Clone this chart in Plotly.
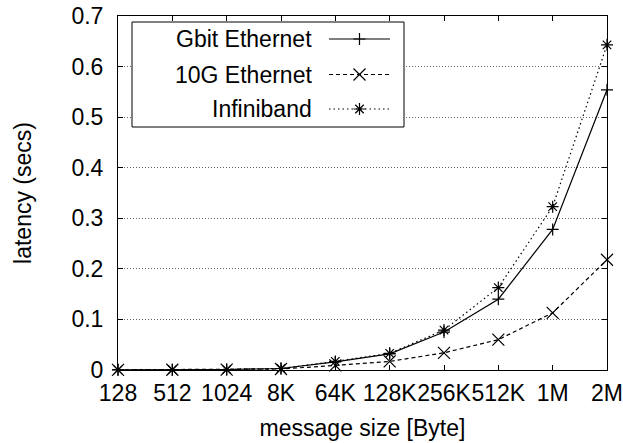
import plotly.graph_objects as go

categories = ["128", "512", "1024", "8K", "64K", "128K", "256K", "512K", "1M", "2M"]
gbit = [0.0005, 0.0007, 0.001, 0.003, 0.016, 0.032, 0.075, 0.140, 0.278, 0.554]
teng = [0.0004, 0.0005, 0.0008, 0.002, 0.009, 0.017, 0.034, 0.060, 0.113, 0.218]
infini = [0.0004, 0.0006, 0.001, 0.003, 0.017, 0.033, 0.079, 0.163, 0.323, 0.643]
series_names = ["Gbit Ethernet", "10G Ethernet", "Infiniband"]

W, H = 623, 443
PL, PR, PT, PB = 118, 607, 16, 370          # plot area in page pixels
L, T, R, B = PL, PT, W - PR, H - PB
PW, PH = PR - PL, PB - PT
FONT = "Liberation Sans, Arial, Helvetica, sans-serif"
FS = 23

def px(x):
    return (x - PL) / PW

def py(y):
    return (PB - y) / PH

styles = [
    dict(dash="solid", symbol="cross-thin-open", size=8.6),
    dict(dash="4px,3px", symbol="x-thin-open", size=12),
    dict(dash="1.5px,3px", symbol="asterisk-open", size=10),
]

fig = go.Figure()
for name, vals, st in zip(series_names, [gbit, teng, infini], styles):
    fig.add_trace(go.Scatter(
        x=categories, y=vals, name=name, mode="lines+markers",
        line=dict(color="black", width=1.2, dash=st["dash"]),
        marker=dict(symbol=st["symbol"], size=st["size"],
                    line=dict(color="black", width=1.2), color="black"),
        cliponaxis=False, showlegend=False,
    ))

# custom legend (text first, sample on the right, like gnuplot)
shapes = [dict(type="rect", xref="paper", yref="paper",
               x0=px(132), x1=px(404), y0=py(127), y1=py(22),
               line=dict(color="black", width=1), fillcolor="white", layer="above")]
annotations = []
rows = [39, 74.5, 109]
mx = 359.5
for name, st, ry in zip(series_names, styles, rows):
    shapes.append(dict(type="line", xref="paper", yref="paper",
                       x0=px(329), x1=px(390), y0=py(ry), y1=py(ry),
                       line=dict(color="black", width=1.2, dash=st["dash"])))
    annotations.append(dict(text=name, xref="paper", yref="paper",
                            x=px(314), y=py(ry), xanchor="right", yanchor="middle",
                            showarrow=False, font=dict(size=FS, color="black", family=FONT)))
    if st["symbol"].startswith("cross"):
        h = 6
        path = (f"M{px(mx-h)},{py(ry)} L{px(mx+h)},{py(ry)} "
                f"M{px(mx)},{py(ry-h)} L{px(mx)},{py(ry+h)}")
    elif st["symbol"].startswith("x"):
        h = 6
        path = (f"M{px(mx-h)},{py(ry-h)} L{px(mx+h)},{py(ry+h)} "
                f"M{px(mx-h)},{py(ry+h)} L{px(mx+h)},{py(ry-h)}")
    else:
        h, d = 6, 4.25
        path = (f"M{px(mx-h)},{py(ry)} L{px(mx+h)},{py(ry)} "
                f"M{px(mx)},{py(ry-h)} L{px(mx)},{py(ry+h)} "
                f"M{px(mx-d)},{py(ry-d)} L{px(mx+d)},{py(ry+d)} "
                f"M{px(mx-d)},{py(ry+d)} L{px(mx+d)},{py(ry-d)}")
    shapes.append(dict(type="path", xref="paper", yref="paper", path=path,
                       line=dict(color="black", width=1.2)))

fig.update_layout(
    width=W, height=H,
    margin=dict(l=L, r=R, t=T, b=B),
    paper_bgcolor="white", plot_bgcolor="white",
    font=dict(family=FONT, size=FS, color="black"),
    shapes=shapes, annotations=annotations,
    showlegend=False,
)
fig.update_xaxes(
    type="category", range=[0, 9], automargin=False, tickangle=0,
    showline=True, linecolor="black", linewidth=1, mirror="allticks",
    ticks="inside", ticklen=5, tickcolor="black", showgrid=False,
    tickfont=dict(size=FS), ticklabelstandoff=2, ticklabeloverflow="allow",
    title=dict(text="message size [Byte]", font=dict(size=FS), standoff=15),
)
fig.update_yaxes(
    range=[0, 0.7], dtick=0.1, automargin=False,
    showline=True, linecolor="black", linewidth=1, mirror="allticks",
    ticks="inside", ticklen=5, tickcolor="black",
    showgrid=True, gridcolor="#666", griddash="1px,2px", gridwidth=1,
    zeroline=False,
    tickfont=dict(size=FS), ticklabelstandoff=9, ticklabeloverflow="allow",
    title=dict(text="latency (secs)", font=dict(size=FS), standoff=33),
)

fig.write_html("out.html", config={"displayModeBar": False},
               post_script="document.body.style.margin='0';document.body.style.overflow='hidden';")
